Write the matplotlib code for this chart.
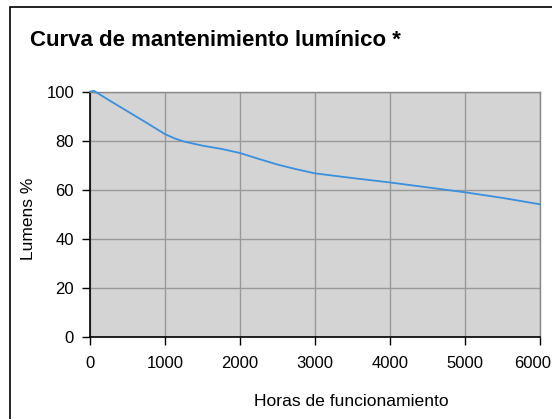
import matplotlib
matplotlib.use("Agg")
import matplotlib.pyplot as plt
from matplotlib.patches import Rectangle
from matplotlib.transforms import ScaledTranslation

hours = [0, 50, 250, 500, 750, 1000, 1125, 1250, 1500, 1750, 2000, 2250, 2500, 2750,
         3000, 3500, 4000, 4500, 5000, 5500, 6000]
lumens = [100, 100.4, 96.6, 92, 87.4, 82.7, 81.0, 79.7, 78, 76.7, 75, 72.6, 70.3, 68.4,
          66.7, 64.8, 63, 61, 59, 56.7, 54.1]
x_ticks = [0, 1000, 2000, 3000, 4000, 5000, 6000]
y_ticks = [0, 20, 40, 60, 80, 100]

title = "Curva de mantenimiento lumínico *"
xlabel = "Horas de funcionamiento"
ylabel = "Lumens %"

plt.rcParams['font.family'] = ['Liberation Sans', 'DejaVu Sans']

W, H = 552, 419
fig = plt.figure(figsize=(W / 100, H / 100), dpi=100)
fig.patch.set_facecolor('white')

# outer frame (extends beyond right and bottom edges)
fig.patches.append(Rectangle((9.5 / W, -0.1), 1.2, 1.1 - 7 / H, transform=fig.transFigure,
                             fill=False, edgecolor='black', linewidth=1.2, clip_on=False))

ax_bottom, ax_top = 337.0, 91.7
ax_h = ax_bottom - ax_top
ax = fig.add_axes([90 / W, 1 - ax_bottom / H, 450 / W, ax_h / H])
ax.set_facecolor('#d4d4d4')
ax.plot(hours, lumens, color='#3a8fde', linewidth=1.3, clip_on=False, zorder=3)

ax.set_xlim(0, 6000)
ax.set_ylim(0, 100)
ax.set_xticks(x_ticks)
ax.set_yticks(y_ticks)
ax.grid(True, color='#999999', linewidth=1.0)
ax.set_axisbelow(True)

for s in ['top', 'right']:
    ax.spines[s].set_color('#888888')
    ax.spines[s].set_linewidth(1.0)
for s in ['left', 'bottom']:
    ax.spines[s].set_color('black')
    ax.spines[s].set_linewidth(1.2)

ax.tick_params(axis='both', direction='out', length=5.5, width=1, color='black',
               labelsize=12)
ax.tick_params(axis='y', pad=6)
ax.tick_params(axis='x', pad=8)

# keep the last x tick label inside the figure, as in the reference
fig.canvas.draw()
last = ax.get_xticklabels()[-1]
last.set_transform(last.get_transform() + ScaledTranslation(-7 / 100, 0, fig.dpi_scale_trans))

ax.set_xlabel(xlabel, fontsize=12.6)
ax.xaxis.label.set_va('baseline')
ax.xaxis.set_label_coords((351 - 90) / 450, -(405.7 - ax_bottom) / ax_h)

ax.set_ylabel(ylabel, fontsize=12.5)
ax.yaxis.label.set_va('center')
ax.yaxis.set_label_coords((29 - 90) / 450, (ax_bottom - 219) / ax_h)

fig.text(29.5 / W, 1 - 46 / H, title, fontsize=16, fontweight='bold', ha='left', va='baseline')

fig.savefig('out.png', dpi=100)
